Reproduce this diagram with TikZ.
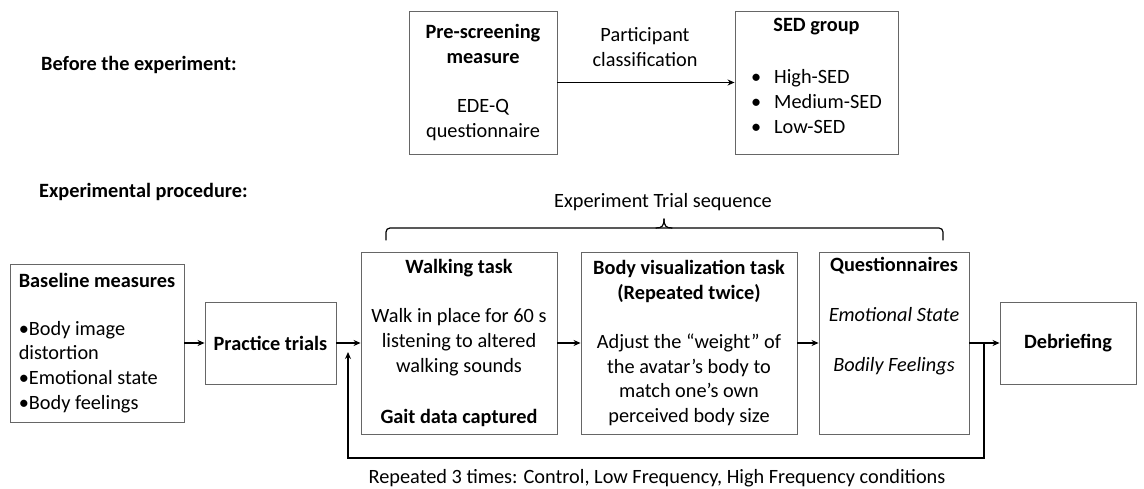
\documentclass[tikz,border=0pt]{standalone}
\usepackage{fontspec}
\setmainfont{Carlito}
\usetikzlibrary{arrows.meta}
\newcommand{\dgfont}{\fontsize{20.3pt}{24.8pt}\selectfont}
\begin{document}
\begin{tikzpicture}[x=1pt,y=-1pt,
  box/.style={draw=black!60, line width=0.9pt, inner sep=0pt, align=center, font=\dgfont},
  txt/.style={inner sep=0pt, align=center, font=\dgfont},
  head/.style={inner sep=0pt, anchor=west, font=\dgfont\bfseries},
  arr/.style={line width=1.2pt, -{Stealth[length=7pt,width=6pt]}},
  brace/.style={line width=1.2pt, line cap=round}]
\useasboundingbox (0,0) rectangle (1144,489);

% headings
\node[head] (h1) at (41,65) {Before the experiment:};
\node[head] (h2) at (39,192) {Experimental procedure:};

% top row
\node[box, minimum width=148pt, minimum height=143pt] (pre) at (483,82.5)
  {\textbf{Pre-screening}\\\textbf{measure}\\[24.5pt]EDE-Q\\questionnaire};
\node[box, minimum width=163pt, minimum height=143pt] (sed) at (816.5,82.5) {};
\node[txt, font=\dgfont\bfseries] (sedt) at (816.5,27) {SED group};
\node[txt, align=left, anchor=west] (sedl) at (751,101.5)
  {\makebox[23pt][l]{\textbullet}High-SED\\\makebox[23pt][l]{\textbullet}Medium-SED\\\makebox[23pt][l]{\textbullet}Low-SED};
\draw[arr] (pre) -- (sed);
\node[txt] (pc) at (645,47) {Participant\\classification};

% trial sequence brace
\node[txt] (ets) at (663,202) {Experiment Trial sequence};
\draw[brace, rounded corners=4pt] (386,240) -- (386,228) -- (943,228) -- (943,240);
\draw[brace] (656,228) .. controls (662,228) and (664,226) .. (664,219);
\draw[brace] (672,228) .. controls (666,228) and (664,226) .. (664,219);

% main row
\node[box, minimum width=174pt, minimum height=158pt, align=left] (base) at (97,343)
  {\textbf{Baseline measures}\\[23pt]•Body image\\distortion\\•Emotional state\\•Body feelings};
\node[box, minimum width=131pt, minimum height=82pt, font=\dgfont\bfseries] (prac) at (270.5,343) {Practice trials};
\node[box, minimum width=196pt, minimum height=182pt] (walk) at (459,343)
  {\textbf{Walking task}\\[24.5pt]Walk in place for 60 s\\listening to altered\\walking sounds\\[26pt]\textbf{Gait data captured}};
\node[box, minimum width=216pt, minimum height=182pt] (body) at (689,343)
  {\textbf{Body visualization task}\\\textbf{(Repeated twice)}\\[24.5pt]Adjust the “weight” of\\the avatar’s body to\\match one’s own\\perceived body size};
\node[box, minimum width=150pt, minimum height=182pt] (ques) at (894,343)
  {\textbf{Questionnaires}\\[25pt]\textit{Emotional State}\\[25pt]\textit{Bodily Feelings}\\[25pt]\strut};
\node[box, minimum width=136pt, minimum height=82pt, font=\dgfont\bfseries] (debr) at (1068,343) {Debriefing};

\draw[arr] (base) -- (prac);
\draw[arr] (prac) -- (walk);
\draw[arr] (walk) -- (body);
\draw[arr] (body) -- (ques);
\draw[arr] (ques) -- (debr);

% repeat loop
\coordinate (j) at (984,343);
\coordinate (jb) at (984,458);
\coordinate (kb) at (348,458);
\coordinate (k) at (348,352);
\draw[arr] (j) -- (jb) -- (kb) -- (k);
\node[txt] (rep) at (657,478) {Repeated 3 times: Control, Low Frequency, High Frequency conditions};
\end{tikzpicture}
\end{document}
